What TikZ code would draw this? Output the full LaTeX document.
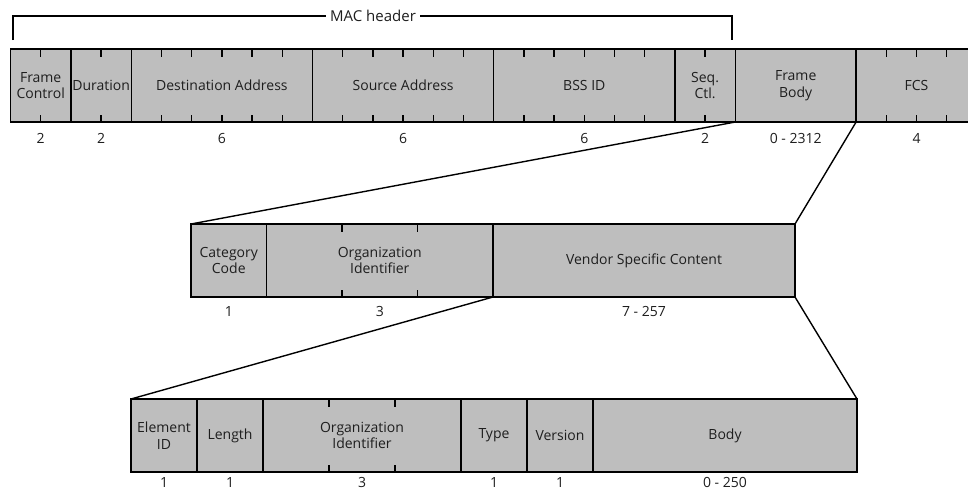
\documentclass[tikz,border=0pt]{standalone}
\usepackage{fontspec}
\setmainfont{Open Sans}
\usetikzlibrary{calc}
\definecolor{fieldgray}{HTML}{BEBEBE}
\definecolor{ink}{HTML}{1E1E1E}
\tikzset{
  field/.style={draw=black, fill=fieldgray, line width=1.4pt, inner sep=0pt,
    outer sep=0pt, anchor=north west, align=center, text=ink,
    font=\fontsize{14}{16.5}\selectfont},
  toprow/.style={field, minimum height=73pt},
  sizelbl/.style={text=ink, font=\fontsize{14}{16}\selectfont, inner sep=0pt},
  tick/.style={line width=1.4pt},
  zoomline/.style={line width=1.4pt},
}
\begin{document}
\begin{tikzpicture}[x=1pt,y=1pt]
\useasboundingbox (0,0) rectangle (968,-491);
\clip (0,0) rectangle (968,-491);

% ---------- 802.11 MAC frame ----------
\def\ua{30.2}
\foreach \name/\start/\len/\txt in {
  fc/0/2/{Frame\\Control},
  dur/2/2/{Duration},
  da/4/6/{Destination Address},
  sa/10/6/{Source Address},
  bss/16/6/{BSS ID},
  seq/22/2/{Seq.\\Ctl.},
  fb/24/4/{Frame\\Body},
  fcs/28/4/{FCS}}{
  \node[toprow, minimum width=\len*\ua pt] (\name) at ({10.5+\start*\ua},-49) {\txt};
}
% byte ticks
\foreach \name/\len in {fc/2,dur/2,da/6,sa/6,bss/6,seq/2,fcs/4}{
  \pgfmathtruncatemacro{\last}{\len-1}
  \foreach \i in {1,...,\last}{
    \draw[tick] ($(\name.north west)+(\i*\ua,0)$) -- ++(0,-7.5);
    \draw[tick] ($(\name.south west)+(\i*\ua,0)$) -- ++(0,7.5);
  }
}
\foreach \name/\sz in {fc/2,dur/2,da/6,sa/6,bss/6,seq/2,fb/{0 - 2312},fcs/4}{
  \node[sizelbl] (\name-sz) at (\name.center |- 0,-138) {\sz};
}

% MAC header bracket
\coordinate (macL) at (13,-40);
\coordinate (macR) at (732,-40);
\draw[line width=1.4pt] (macL) -- (13,-16) -- (732,-16) -- (macR);
\node[fill=white, text=ink, inner sep=4pt, font=\fontsize{15}{17}\selectfont] (mac) at (373,-16) {MAC header};

% ---------- Action frame body ----------
\def\ub{75.5}
\foreach \name/\start/\len/\txt in {
  cat/0/1/{Category\\Code},
  oui/1/3/{Organization\\Identifier},
  vsc/4/4/{Vendor Specific Content}}{
  \node[toprow, minimum width=\len*\ub pt] (\name) at ({191+\start*\ub},-224) {\txt};
}
\foreach \i in {1,2}{
  \draw[tick] ($(oui.north west)+(\i*\ub,0)$) -- ++(0,-7.5);
  \draw[tick] ($(oui.south west)+(\i*\ub,0)$) -- ++(0,7.5);
}
\foreach \name/\sz in {cat/1,oui/3,vsc/{7 - 257}}{
  \node[sizelbl] (\name-sz) at (\name.center |- 0,-311) {\sz};
}

% ---------- Vendor specific element ----------
\def\uc{66}
\foreach \name/\start/\len/\txt in {
  eid/0/1/{Element\\ID},
  elen/1/1/{Length},
  eoui/2/3/{Organization\\Identifier},
  etype/5/1/{Type},
  ever/6/1/{Version},
  ebody/7/4/{Body}}{
  \node[toprow, minimum width=\len*\uc pt] (\name) at ({131+\start*\uc},-399) {\txt};
}
\foreach \i in {1,2}{
  \draw[tick] ($(eoui.north west)+(\i*\uc,0)$) -- ++(0,-7.5);
  \draw[tick] ($(eoui.south west)+(\i*\uc,0)$) -- ++(0,7.5);
}
\foreach \name/\sz in {eid/1,elen/1,eoui/3,etype/1,ever/1,ebody/{0 - 250}}{
  \node[sizelbl] (\name-sz) at (\name.center |- 0,-482.5) {\sz};
}

% ---------- zoom lines ----------
\draw[zoomline] (fb.south west) -- (cat.north west);
\draw[zoomline] (fcs.south west) -- (vsc.north east);
\draw[zoomline] (vsc.south west) -- (eid.north west);
\draw[zoomline] (vsc.south east) -- (ebody.north east);
\end{tikzpicture}
\end{document}
